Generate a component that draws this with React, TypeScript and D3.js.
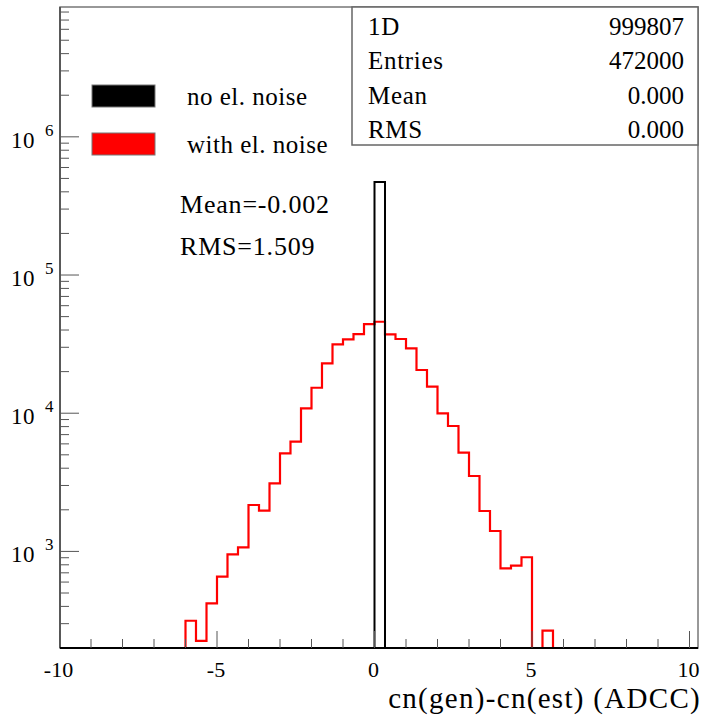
import React from "react";
import * as d3 from "d3";

const width = 703;
const height = 715;

// red histogram (with electronic noise): lower bin edges and counts
const redBinLow = [
  -6.0, -5.667, -5.333, -5.0, -4.667, -4.333, -4.0, -3.667, -3.333, -3.0, -2.667, -2.333,
  -2.0, -1.667, -1.333, -1.0, -0.667, -0.333, 0.0, 0.333, 0.667, 1.0, 1.333, 1.667,
  2.0, 2.333, 2.667, 3.0, 3.333, 3.667, 4.0, 4.333, 4.667, 5.0, 5.333, 5.667,
];
const redCounts = [
  315, 225, 421, 656, 953, 1071, 2166, 1970, 3110, 5126, 6220, 10850,
  15290, 22960, 31510, 34250, 37410, 44200, 45920, 37240, 34430, 29490, 20540, 15550,
  9980, 8080, 5180, 3513, 1960, 1405, 755, 788, 907, 0, 267, 0,
];
// black histogram (no noise): one filled bin
const blackBinLow = [0.0];
const blackCounts = [472000];
const binWidth = 0.3333;

const xMajor = [-10, -5, 0, 5, 10];
const xMinor = [-9, -8, -7, -6, -4, -3, -2, -1, 1, 2, 3, 4, 6, 7, 8, 9];
const yDecades = [3, 4, 5, 6];

const statLabels = ["1D", "Entries", "Mean", "RMS"];
const statValues = ["999807", "472000", "0.000", "0.000"];
const legendItems = [
  { label: "no el. noise", color: "#000000" },
  { label: "with el. noise", color: "#ff0000" },
];
const fitText = ["Mean=-0.002", "RMS=1.509"];

const font = "'Liberation Serif', 'DejaVu Serif', serif";

const frame = { left: 60, right: 698, top: 7, bottom: 648 };

const x = d3.scaleLinear().domain([-10, 10]).range([59.5, 689.5]);
const y = d3.scaleLog().domain([200, 8.7e6]).range([frame.bottom, frame.top]);

const stepPath = (lows: number[], counts: number[]) => {
  const ymin = y.domain()[0];
  const pts: [number, number][] = [[x(lows[0]), y(ymin)]];
  lows.forEach((lo, i) => {
    const v = Math.max(counts[i], ymin);
    pts.push([x(lo), y(v)]);
    pts.push([x(lo + binWidth), y(v)]);
  });
  pts.push([x(lows[lows.length - 1] + binWidth), y(ymin)]);
  return d3.line()(pts) as string;
};

const App = () => {
  const yMinor: number[] = [];
  for (let e = 2; e <= 6; e++) {
    for (let m = 2; m <= 9; m++) {
      const v = m * Math.pow(10, e);
      if (v > y.domain()[0] && v < y.domain()[1]) yMinor.push(v);
    }
  }

  return (
    <svg
      width={width}
      height={height}
      style={{ position: "absolute", left: 0, top: 0, background: "#fff" }}
      fontFamily={font}
    >
      {/* frame */}
      <rect
        x={frame.left}
        y={frame.top}
        width={frame.right - frame.left}
        height={frame.bottom - frame.top}
        fill="none"
        stroke="#777"
        strokeWidth={1.5}
      />
      <line x1={frame.left} x2={frame.left} y1={frame.top} y2={frame.bottom} stroke="#444" strokeWidth={1.5} />

      {/* histograms */}
      <path d={stepPath(redBinLow, redCounts)} fill="none" stroke="#ff0000" strokeWidth={2.2} />
      <path d={stepPath(blackBinLow, blackCounts)} fill="none" stroke="#000" strokeWidth={2} />

      {/* x axis */}
      <line x1={frame.left} x2={frame.right} y1={frame.bottom} y2={frame.bottom} stroke="#000" strokeWidth={2} />
      {xMinor.map((t) => (
        <line key={"xm" + t} x1={x(t)} x2={x(t)} y1={frame.bottom} y2={frame.bottom - 9} stroke="#555" strokeWidth={1} />
      ))}
      {xMajor.map((t) => (
        <g key={"xM" + t}>
          <line x1={x(t)} x2={x(t)} y1={frame.bottom} y2={frame.bottom - 17} stroke="#555" strokeWidth={1} />
          <text x={x(t) - 1} y={677} fontSize={22} textAnchor="middle" fill="#000">
            {t}
          </text>
        </g>
      ))}
      <text x={701} y={708} fontSize={29} letterSpacing={1.3} textAnchor="end" fill="#000">
        cn(gen)-cn(est) (ADCC)
      </text>

      {/* y axis */}
      {yMinor.map((v) => (
        <line key={"ym" + v} x1={frame.left} x2={frame.left + 9} y1={y(v)} y2={y(v)} stroke="#555" strokeWidth={1} />
      ))}
      {yDecades.map((e) => (
        <g key={"yM" + e}>
          <line x1={frame.left} x2={frame.left + 19} y1={y(Math.pow(10, e))} y2={y(Math.pow(10, e))} stroke="#555" strokeWidth={1} />
          <text x={11} y={y(Math.pow(10, e)) + 11} fontSize={23} letterSpacing={0.5} fill="#000">
            10
          </text>
          <text x={45} y={y(Math.pow(10, e)) - 1} fontSize={17} fill="#000">
            {e}
          </text>
        </g>
      ))}

      {/* stats box */}
      <rect x={352} y={frame.top} width={frame.right - 352} height={145 - frame.top} fill="#fff" stroke="#666" strokeWidth={1.5} />
      {statLabels.map((s, i) => (
        <g key={s}>
          <text x={368} y={35 + i * 34.3} fontSize={25} letterSpacing={0.7} fill="#000">
            {s}
          </text>
          <text x={684} y={35 + i * 34.3} fontSize={25} textAnchor="end" fill="#000">
            {statValues[i]}
          </text>
        </g>
      ))}

      {/* legend */}
      {legendItems.map((d, i) => (
        <g key={d.label}>
          <rect x={92} y={85 + i * 48} width={63} height={22} fill={d.color} stroke="#777" strokeWidth={1} />
          <text x={187} y={105 + i * 48} fontSize={25} letterSpacing={0.5} fill="#000">
            {d.label}
          </text>
        </g>
      ))}
      {fitText.map((t, i) => (
        <text key={t} x={180} y={213 + i * 42} fontSize={26} letterSpacing={0.8} fill="#000">
          {t}
        </text>
      ))}
    </svg>
  );
};

export default App;
